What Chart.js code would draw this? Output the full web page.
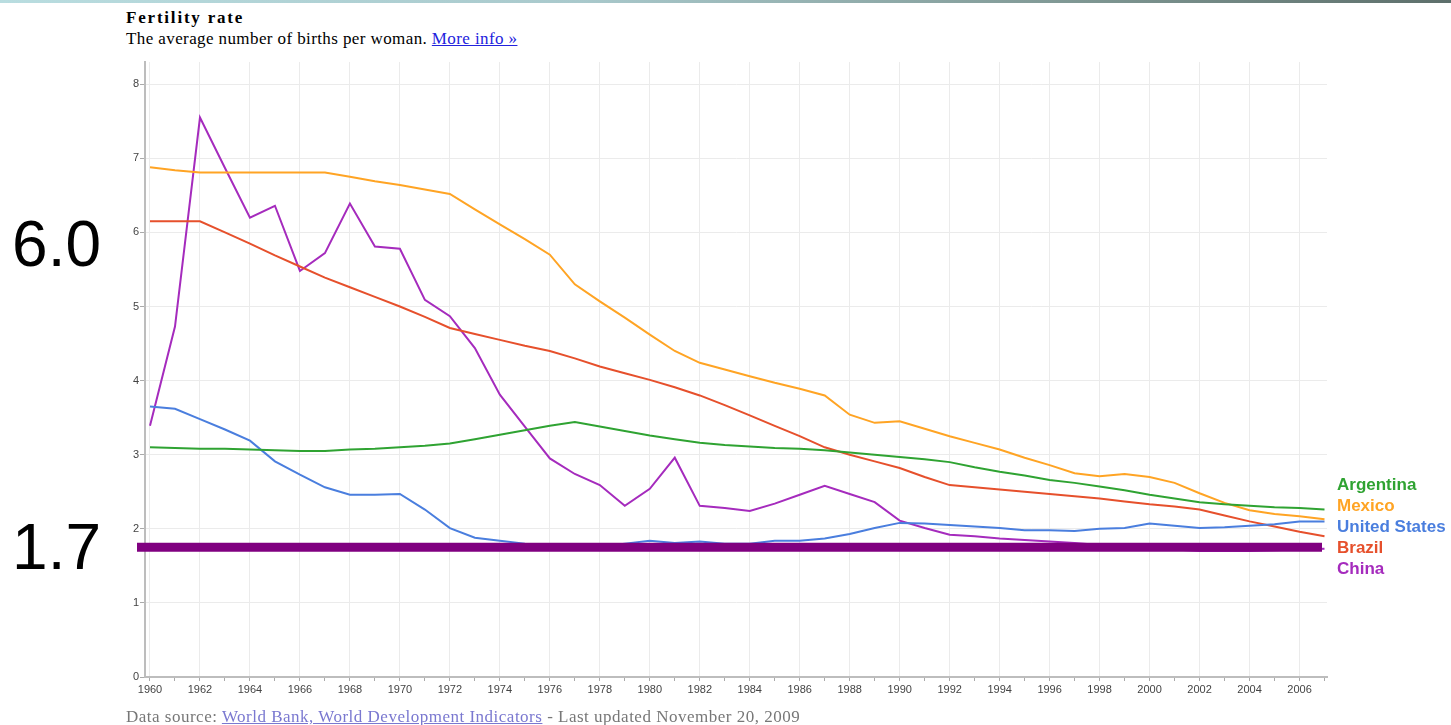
<!DOCTYPE html>
<html>
<head>
<meta charset="utf-8">
<script src="https://cdn.jsdelivr.net/npm/chart.js@4.4.1/dist/chart.umd.min.js"></script>
<style>
  body { margin: 0; background: #fff; width: 1451px; height: 725px; overflow: hidden; position: relative; }
  #topbar { position: absolute; left: 0; top: 0; width: 1451px; height: 3px;
    background: linear-gradient(to right, #b9dde0 0%, #a9c9cc 40%, #7e9692 75%, #5d6f6b 100%); }
  #myChart { position: absolute; left: 0; top: 0; }
  .title { position: absolute; left: 126px; top: 8px; font: bold 17px "Liberation Serif", serif; letter-spacing: 1.8px; color: #000; }
  .sub { position: absolute; left: 126px; top: 29px; font: 17px "Liberation Serif", serif; letter-spacing: 0.4px; color: #000; }
  .sub a, .src a { color: #2222dd; text-decoration: underline; }
  .src { position: absolute; left: 126px; top: 707px; font: 17px "Liberation Serif", serif; letter-spacing: 0.5px; color: #777; }
  .src a { color: #7a78d0; }
</style>
</head>
<body>
<div id="topbar"></div>
<div class="title">Fertility rate</div>
<div class="sub">The average number of births per woman. <a href="#">More info »</a></div>
<canvas id="myChart" width="1451" height="725"></canvas>
<div class="src">Data source: <a href="#">World Bank, World Development Indicators</a> - Last updated November 20, 2009</div>
<script>
// data

const years = [1960, 1961, 1962, 1963, 1964, 1965, 1966, 1967, 1968, 1969,
  1970, 1971, 1972, 1973, 1974, 1975, 1976, 1977, 1978, 1979,
  1980, 1981, 1982, 1983, 1984, 1985, 1986, 1987, 1988, 1989,
  1990, 1991, 1992, 1993, 1994, 1995, 1996, 1997, 1998, 1999,
  2000, 2001, 2002, 2003, 2004, 2005, 2006, 2007];

const argentina = [3.10, 3.09, 3.08, 3.08, 3.07, 3.06, 3.05, 3.05, 3.07, 3.08,
  3.10, 3.12, 3.15, 3.21, 3.27, 3.33, 3.39, 3.44, 3.38, 3.32,
  3.26, 3.21, 3.16, 3.13, 3.11, 3.09, 3.08, 3.06, 3.03, 3.00,
  2.97, 2.94, 2.90, 2.83, 2.77, 2.72, 2.66, 2.62, 2.57, 2.52,
  2.46, 2.41, 2.36, 2.33, 2.31, 2.29, 2.28, 2.26];

const mexico = [6.88, 6.84, 6.81, 6.81, 6.81, 6.81, 6.81, 6.81, 6.75, 6.69,
  6.64, 6.58, 6.52, 6.31, 6.11, 5.91, 5.70, 5.30, 5.07, 4.85,
  4.62, 4.40, 4.24, 4.15, 4.06, 3.97, 3.89, 3.80, 3.54, 3.43,
  3.45, 3.35, 3.25, 3.16, 3.07, 2.96, 2.86, 2.75, 2.71, 2.74,
  2.70, 2.62, 2.48, 2.35, 2.25, 2.20, 2.17, 2.13];

const unitedStates = [3.65, 3.62, 3.48, 3.34, 3.19, 2.91, 2.73, 2.56, 2.46, 2.46,
  2.47, 2.26, 2.01, 1.88, 1.84, 1.80, 1.77, 1.78, 1.76, 1.80,
  1.84, 1.81, 1.83, 1.80, 1.80, 1.84, 1.84, 1.87, 1.93, 2.01,
  2.08, 2.07, 2.05, 2.03, 2.01, 1.98, 1.98, 1.97, 2.00, 2.01,
  2.07, 2.04, 2.01, 2.02, 2.04, 2.06, 2.10, 2.10];

const brazil = [6.15, 6.15, 6.15, 6.00, 5.85, 5.69, 5.54, 5.39, 5.26, 5.13,
  5.00, 4.86, 4.71, 4.63, 4.55, 4.47, 4.40, 4.30, 4.19, 4.10,
  4.01, 3.91, 3.80, 3.67, 3.53, 3.39, 3.25, 3.10, 3.00, 2.91,
  2.82, 2.70, 2.59, 2.56, 2.53, 2.50, 2.47, 2.44, 2.41, 2.37,
  2.33, 2.30, 2.26, 2.18, 2.10, 2.03, 1.96, 1.90];

const china = [3.39, 4.73, 7.55, 6.87, 6.20, 6.36, 5.48, 5.72, 6.39, 5.81,
  5.78, 5.09, 4.87, 4.44, 3.81, 3.38, 2.95, 2.74, 2.59, 2.31,
  2.54, 2.96, 2.31, 2.28, 2.24, 2.34, 2.46, 2.58, 2.47, 2.36,
  2.11, 2.01, 1.92, 1.90, 1.87, 1.85, 1.83, 1.81, 1.78, 1.76,
  1.74, 1.72, 1.70, 1.70, 1.70, 1.71, 1.72, 1.73];

const yTicks = [0, 1, 2, 3, 4, 5, 6, 7, 8];

// hand drawn notes on top of the chart
const noteLabels = ['6.0', '1.7'];
const noteLine = 1.75;

const series = [
  { label: 'Argentina', data: argentina, color: '#2fa332' },
  { label: 'Mexico', data: mexico, color: '#ffa424' },
  { label: 'United States', data: unitedStates, color: '#4a7ede' },
  { label: 'Brazil', data: brazil, color: '#e6502c' },
  { label: 'China', data: china, color: '#a52bbd' }
];

// plugin: right side labels + notes

const extras = {
  id: 'extras',
  afterDatasetsDraw(chart) {
    const ctx = chart.ctx;
    const area = chart.chartArea;
    const y = chart.scales.y;
    ctx.save();
    // thick purple marker line
    ctx.strokeStyle = '#800080';
    ctx.lineWidth = 9;
    ctx.beginPath();
    ctx.moveTo(area.left - 8, y.getPixelForValue(noteLine));
    ctx.lineTo(area.right - 5, y.getPixelForValue(noteLine));
    ctx.stroke();
    // big numbers on the left
    ctx.fillStyle = '#000';
    ctx.font = '64px "Liberation Sans", Arial, sans-serif';
    ctx.textAlign = 'right';
    ctx.textBaseline = 'alphabetic';
    ctx.fillText(noteLabels[0], area.left - 44, 266);
    ctx.fillText(noteLabels[1], area.left - 44, 569);
    // series names
    ctx.font = 'bold 17px "Liberation Sans", Arial, sans-serif';
    ctx.textAlign = 'left';
    ctx.textBaseline = 'middle';
    chart.data.datasets.forEach((ds, i) => {
      ctx.fillStyle = ds.borderColor;
      ctx.fillText(ds.label, area.right + 10, area.bottom - 192 + i * 21);
    });
    ctx.restore();
  }
};

const myChart = document.getElementById('myChart').getContext('2d');

const fertility = new Chart(myChart, {
  type: 'line',
  data: {
    datasets: series.map(s => ({
      label: s.label,
      data: s.data.map((v, i) => ({ x: years[i], y: v })),
      borderColor: s.color,
      backgroundColor: s.color,
      borderWidth: 2,
      pointRadius: 0,
      tension: 0
    }))
  },
  options: {
    responsive: false,
    devicePixelRatio: 1,
    animation: false,
    layout: { padding: { left: 100, top: 62, right: 124, bottom: 28 } },
    plugins: { legend: { display: false }, tooltip: { enabled: false } },
    scales: {
      x: {
        type: 'linear',
        min: 1959.8,
        max: 2007.1,
        afterBuildTicks: (s) => { s.ticks = years.map(v => ({ value: v })); },
        afterFit: (s) => { s.height = 20; },
        border: { color: '#bdbdbd', width: 2 },
        grid: {
          color: (c) => (c.tick && c.tick.value % 2 === 0) ? '#ebebeb' : 'rgba(0,0,0,0)',
          tickColor: '#aaa',
          tickLength: 4
        },
        ticks: {
          autoSkip: false,
          maxRotation: 0,
          padding: 2,
          color: '#444',
          font: { family: '"Liberation Sans", Arial, sans-serif', size: 11 },
          callback: (v) => v % 2 === 0 ? String(v) : ''
        }
      },
      y: {
        min: 0,
        max: 8.3,
        afterBuildTicks: (s) => { s.ticks = yTicks.map(v => ({ value: v })); },
        afterFit: (s) => { s.width = 45; },
        border: { color: '#bdbdbd', width: 2 },
        grid: { color: '#ebebeb', tickColor: '#aaa', tickLength: 5 },
        ticks: {
          padding: 1,
          color: '#444',
          font: { family: '"Liberation Sans", Arial, sans-serif', size: 11 }
        }
      }
    }
  },
  plugins: [extras]
});
</script>
</body>
</html>
